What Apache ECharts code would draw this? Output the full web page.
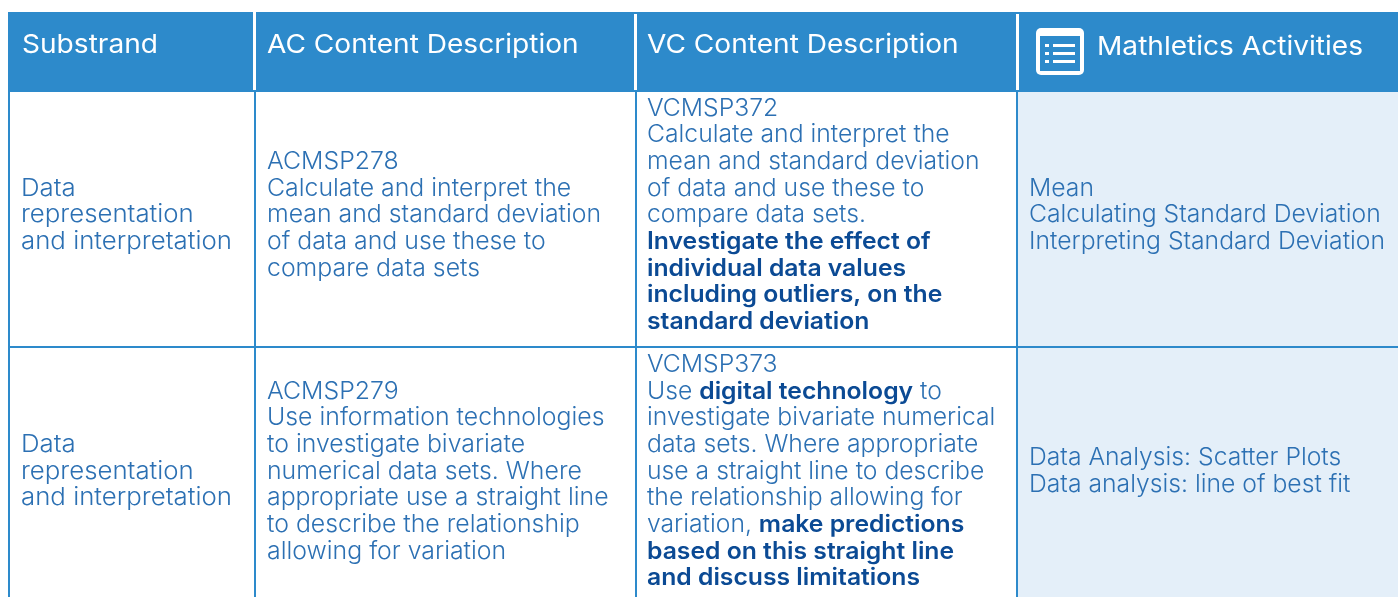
<!DOCTYPE html>
<html lang="en">
  <head>
    <meta charset="UTF-8" />
    <title>Substrand table</title>
    <style>
      body {
        margin: 0;
      }
      #main {
        width: 1398px;
        height: 597px;
      }
    </style>
  </head>
  <body>
    <div id="main"></div>
    <script src="https://cdn.jsdelivr.net/npm/echarts@6/dist/echarts.min.js"></script>
    <script>
      const headers = [
        "Substrand",
        "AC Content Description",
        "VC Content Description",
        "Mathletics Activities",
      ];
      // {b|...} marks the bold runs
      const row1 = [
        ["Data", "representation", "and interpretation"],
        [
          "ACMSP278",
          "Calculate and interpret the",
          "mean and standard deviation",
          "of data and use these to",
          "compare data sets",
        ],
        [
          "VCMSP372",
          "Calculate and interpret the",
          "mean and standard deviation",
          "of data and use these to",
          "compare data sets.",
          "{b|Investigate the effect of}",
          "{b|individual data values}",
          "{b|including outliers, on the}",
          "{b|standard deviation}",
        ],
        ["Mean", "Calculating Standard Deviation", "Interpreting Standard Deviation"],
      ];
      const row2 = [
        ["Data", "representation", "and interpretation"],
        [
          "ACMSP279",
          "Use information technologies",
          "to investigate bivariate",
          "numerical data sets. Where",
          "appropriate use a straight line",
          "to describe the relationship",
          "allowing for variation",
        ],
        [
          "VCMSP373",
          "Use {b|digital technology} to",
          "investigate bivariate numerical",
          "data sets. Where appropriate",
          "use a straight line to describe",
          "the relationship allowing for",
          "variation, {b|make predictions}",
          "{b|based on this straight line}",
          "{b|and discuss limitations}",
        ],
        ["Data Analysis: Scatter Plots", "Data analysis: line of best fit"],
      ];

      const colEdges = [8, 255, 636, 1018, 1398];
      const textLeft = [21, 267, 647, 1029];
      const headerLeft = [22, 267, 647, 1097];
      const headerTop = 12;
      const headerBottom = 92;
      const rowEdges = [91, 347, 600];
      const rowMiddle = [215.2, 471.5];
      const lineGap = 26.65;
      const fontName = "Inter";
      const fontSize = 24;
      // the original face is wider than Inter, so stretch each column's text to fit
      const colStretch = [1.075, 1.035, 1.03, 1.03];
      const blue = "#2d8acb";
      const textBlue = "#2c70b3";
      const boldBlue = "#0b4a94";
      const paleBlue = "#e4eff9";

      const cells = [];
      [row1, row2].forEach((row, r) =>
        row.forEach((lines, c) => cells.push({ value: [c, r], lines })),
      );

      function lineText(x, y, text, color, size, weight, stretch) {
        return {
          type: "text",
          x,
          y,
          scaleX: stretch,
          style: {
            text,
            fill: color,
            font: weight + " " + size + "px " + fontName,
            verticalAlign: "middle",
            rich: {
              b: { fill: boldBlue, fontFamily: fontName, fontSize: size, fontWeight: "600" },
            },
          },
        };
      }

      function renderCell(params, api) {
        const c = api.value(0);
        const r = api.value(1);
        const lines = cells[params.dataIndex].lines;
        const tl = api.coord([colEdges[c], rowEdges[r]]);
        const br = api.coord([colEdges[c + 1], rowEdges[r + 1]]);
        const children = [];
        if (c === 3) {
          children.push({
            type: "rect",
            shape: { x: tl[0], y: tl[1], width: br[0] - tl[0], height: br[1] - tl[1] },
            style: { fill: paleBlue },
          });
        }
        const mid = api.coord([0, rowMiddle[r]])[1];
        lines.forEach((t, i) => {
          const y = mid + (i - (lines.length - 1) / 2) * lineGap;
          children.push(lineText(api.coord([textLeft[c], 0])[0], y, t, textBlue, fontSize, 300, colStretch[c]));
        });
        return { type: "group", children };
      }

      function renderGrid(params, api) {
        const children = [];
        const hr = (x0, x1, y, h, fill) => ({
          type: "rect",
          shape: { x: x0, y, width: x1 - x0, height: h },
          style: { fill },
        });
        // header band and its white separators
        children.push(hr(8, 1398, headerTop, headerBottom - headerTop, blue));
        children.push(hr(253, 256, headerTop, 78, "#fff"));
        children.push(hr(634, 637, headerTop + 2, 76, "#fff"));
        children.push(hr(1016, 1019, headerTop + 2, 76, "#fff"));
        // body rules
        [8, 254, 635, 1016].forEach((x) => children.push(hr(x, x + 2, headerBottom, 520, blue)));
        children.push(hr(8, 1398, 346, 2, blue));
        return { type: "group", children };
      }

      function renderHeader(params, api) {
        const c = params.dataIndex;
        const y = c === 3 ? 47 : 45;
        return lineText(headerLeft[c], y, headers[c], "#fff", 26, 400, 1.08);
      }

      function renderIcon() {
        const rect = (x, y, width, height, fill, r) => ({
          type: "rect",
          shape: { x, y, width, height, r: r || 0 },
          style: { fill },
        });
        return {
          type: "group",
          children: [
            rect(1036, 28, 48, 47, "#fff", 5),
            rect(1040, 36, 40, 35, blue),
            rect(1045, 44, 4, 3, "#fff"),
            rect(1053, 44, 22, 3, "#fff"),
            rect(1045, 52, 4, 3, "#fff"),
            rect(1053, 52, 22, 3, "#fff"),
            rect(1045, 60, 4, 3, "#fff"),
            rect(1053, 60, 22, 3, "#fff"),
          ],
        };
      }

      const myChart = echarts.init(document.getElementById("main"));
      myChart.setOption({
        animation: false,
        grid: { left: 0, right: 0, top: 0, bottom: 0 },
        xAxis: { type: "value", min: 0, max: 1398, show: false },
        yAxis: { type: "value", min: 0, max: 597, inverse: true, show: false },
        series: [
          { type: "custom", coordinateSystem: "cartesian2d", data: cells, renderItem: renderCell, z: 1, clip: true, encode: { x: 0, y: 1 } },
          { type: "custom", coordinateSystem: "cartesian2d", data: [[0, 0]], renderItem: renderGrid, z: 2, silent: true },
          { type: "custom", coordinateSystem: "cartesian2d", data: headers.map((h, i) => [i, 0]), renderItem: renderHeader, z: 3 },
          { type: "custom", coordinateSystem: "cartesian2d", data: [[0, 0]], renderItem: renderIcon, z: 3, silent: true },
        ],
      });
    </script>
  </body>
</html>
